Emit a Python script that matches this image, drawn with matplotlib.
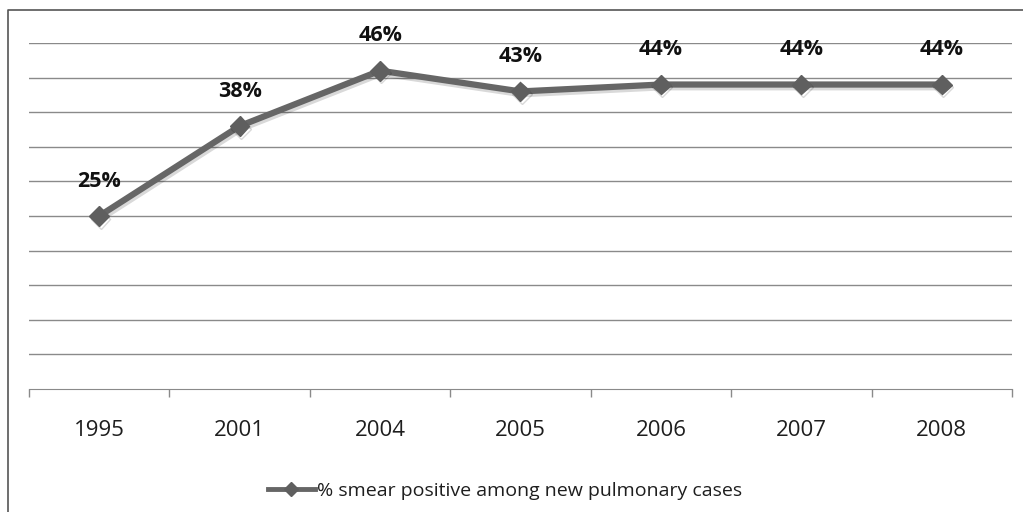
import matplotlib
matplotlib.use("Agg")
import matplotlib.pyplot as plt
import matplotlib.patheffects as pe
from matplotlib.lines import Line2D
import numpy as np

plt.rcParams['font.family'] = ['Open Sans', 'DejaVu Sans']

# data
years = ['1995', '2001', '2004', '2005', '2006', '2007', '2008']
smear_pos = [25, 38, 46, 43, 44, 44, 44]
series_name = '% smear positive among new pulmonary cases'

fig = plt.figure(figsize=(10.23, 5.12), dpi=100)
ax = fig.add_axes([29/1023, 1 - 389/512, (1012 - 29)/1023, (389 - 43)/512])

x = np.arange(len(years))
shadow = [pe.SimpleLineShadow(offset=(1, -2), alpha=0.15, shadow_color='k'), pe.Normal()]
ax.plot(x, smear_pos, color='#666666', lw=4.5, marker='D', ms=10,
        mfc='#5f5f5f', mec='#5f5f5f', path_effects=shadow, zorder=3)

for xi, v in zip(x, smear_pos):
    ax.annotate('%d%%' % v, (xi, v), xytext=(0, 25), textcoords='offset points',
                ha='center', va='center', fontsize=15.5, fontweight='bold', color='#111111')

ax.set_ylim(0, 50)
ax.set_xlim(-0.5, len(years) - 0.5)
ax.set_yticks(np.arange(5, 51, 5))
ax.yaxis.grid(True, color='#8a8a8a', lw=1)
ax.set_axisbelow(True)
ax.tick_params(axis='y', left=False, labelleft=False)

# category ticks between labels, like a spreadsheet chart
ax.set_xticks(np.arange(-0.5, len(years), 1))
ax.set_xticklabels([])
ax.set_xticks(x, minor=True)
ax.set_xticklabels(years, minor=True, fontsize=16, color='#1e1e1e')
ax.tick_params(axis='x', which='major', length=6, color='#8a8a8a', width=1)
ax.tick_params(axis='x', which='minor', length=0, pad=22.5)

for s in ['top', 'right', 'left']:
    ax.spines[s].set_visible(False)
ax.spines['bottom'].set_color('#8a8a8a')

handle = Line2D([], [], color='#666666', lw=3.5, marker='D', ms=7,
                mfc='#5f5f5f', mec='#5f5f5f')
leg = fig.legend([handle], [series_name], loc='center',
                 bbox_to_anchor=(505/1023, 1 - 491/512), frameon=False,
                 fontsize=14, handlelength=2.4, handletextpad=0.1)
for t in leg.get_texts():
    t.set_color('#1e1e1e')

# outer frame (only top and left edges visible)
fig.add_artist(Line2D([8/1023, 8/1023, 1.01], [-0.01, 1 - 10/512, 1 - 10/512],
                      transform=fig.transFigure, color='#555555', lw=1.2))

fig.savefig('out.png', dpi=100)
